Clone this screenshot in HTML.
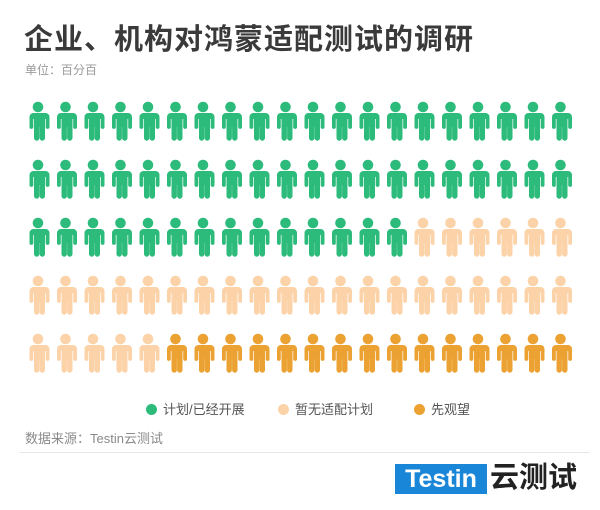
<!DOCTYPE html>
<html><head><meta charset="utf-8"><style>
body{margin:0;width:600px;height:510px;background:#fff;overflow:hidden;font-family:"Liberation Sans","Noto Sans CJK SC",sans-serif;position:relative}
.t{position:absolute;left:24px;top:16px;font-size:29px;font-weight:bold;color:#3a3a3a;letter-spacing:1px}
.s{position:absolute;left:25px;top:61px;font-size:12px;color:#9a9a9a}
.src{position:absolute;left:25px;top:428px;font-size:13px;color:#8a8a8a}
.lg{position:absolute;top:399px;font-size:13px;color:#555}
.lg i{display:inline-block;width:11px;height:11px;border-radius:50%;vertical-align:-1px;margin-right:6px}
.logo{position:absolute;left:395px;top:464px;width:92px;height:30px;background:#1a86d8;color:#fff;font-weight:bold;font-size:25px;line-height:30px;text-align:center}
.cn{position:absolute;left:490px;top:461px;font-size:29px;font-weight:bold;color:#222;line-height:34px}
</style></head><body>
<div class="t">企业、机构对鸿蒙适配测试的调研</div>
<div class="s">单位：百分百</div>
<svg width="600" height="400" style="position:absolute;left:0;top:0">
<defs><g id="p"><circle cx="11" cy="5" r="5.3"/><path d="M3.5 11h15a4 4 0 0 1 4 4v10a1.9 1.9 0 0 1-3.8 0V17h-0.7v19a2.7 2.7 0 0 1-5.4 0V25h-0.2v11a2.7 2.7 0 0 1-5.4 0V17h-0.7v8a1.9 1.9 0 0 1-3.8 0V15a4 4 0 0 1 4-4z"/></g></defs>
<g id="grid"></g>
</svg>
<div class="lg" style="left:146px"><i style="background:#2dbb7c"></i>计划/已经开展</div>
<div class="lg" style="left:278px"><i style="background:#fcd3a9"></i>暂无适配计划</div>
<div class="lg" style="left:414px"><i style="background:#eba232"></i>先观望</div>
<div class="src">数据来源：Testin云测试</div>
<div style="position:absolute;left:20px;top:452px;width:570px;height:1px;background:#e6e6e6"></div>
<div class="logo">Testin</div>
<div class="cn">云测试</div>
<script>
var g=document.getElementById('grid'),h='';
var ys=[102,160,218,276,334];
for(var r=0;r<5;r++)for(var c=0;c<20;c++){
var col;
if(r<2||(r==2&&c<14))col='#2dbb7c';else if(r==3||(r==2)||(r==4&&c<5))col='#fcd3a9';else col='#eba232';
h+='<use href="#p" x="'+(27+c*27.5)+'" y="'+ys[r]+'" fill="'+col+'"/>';}
g.innerHTML=h;
</script>
</body></html>
